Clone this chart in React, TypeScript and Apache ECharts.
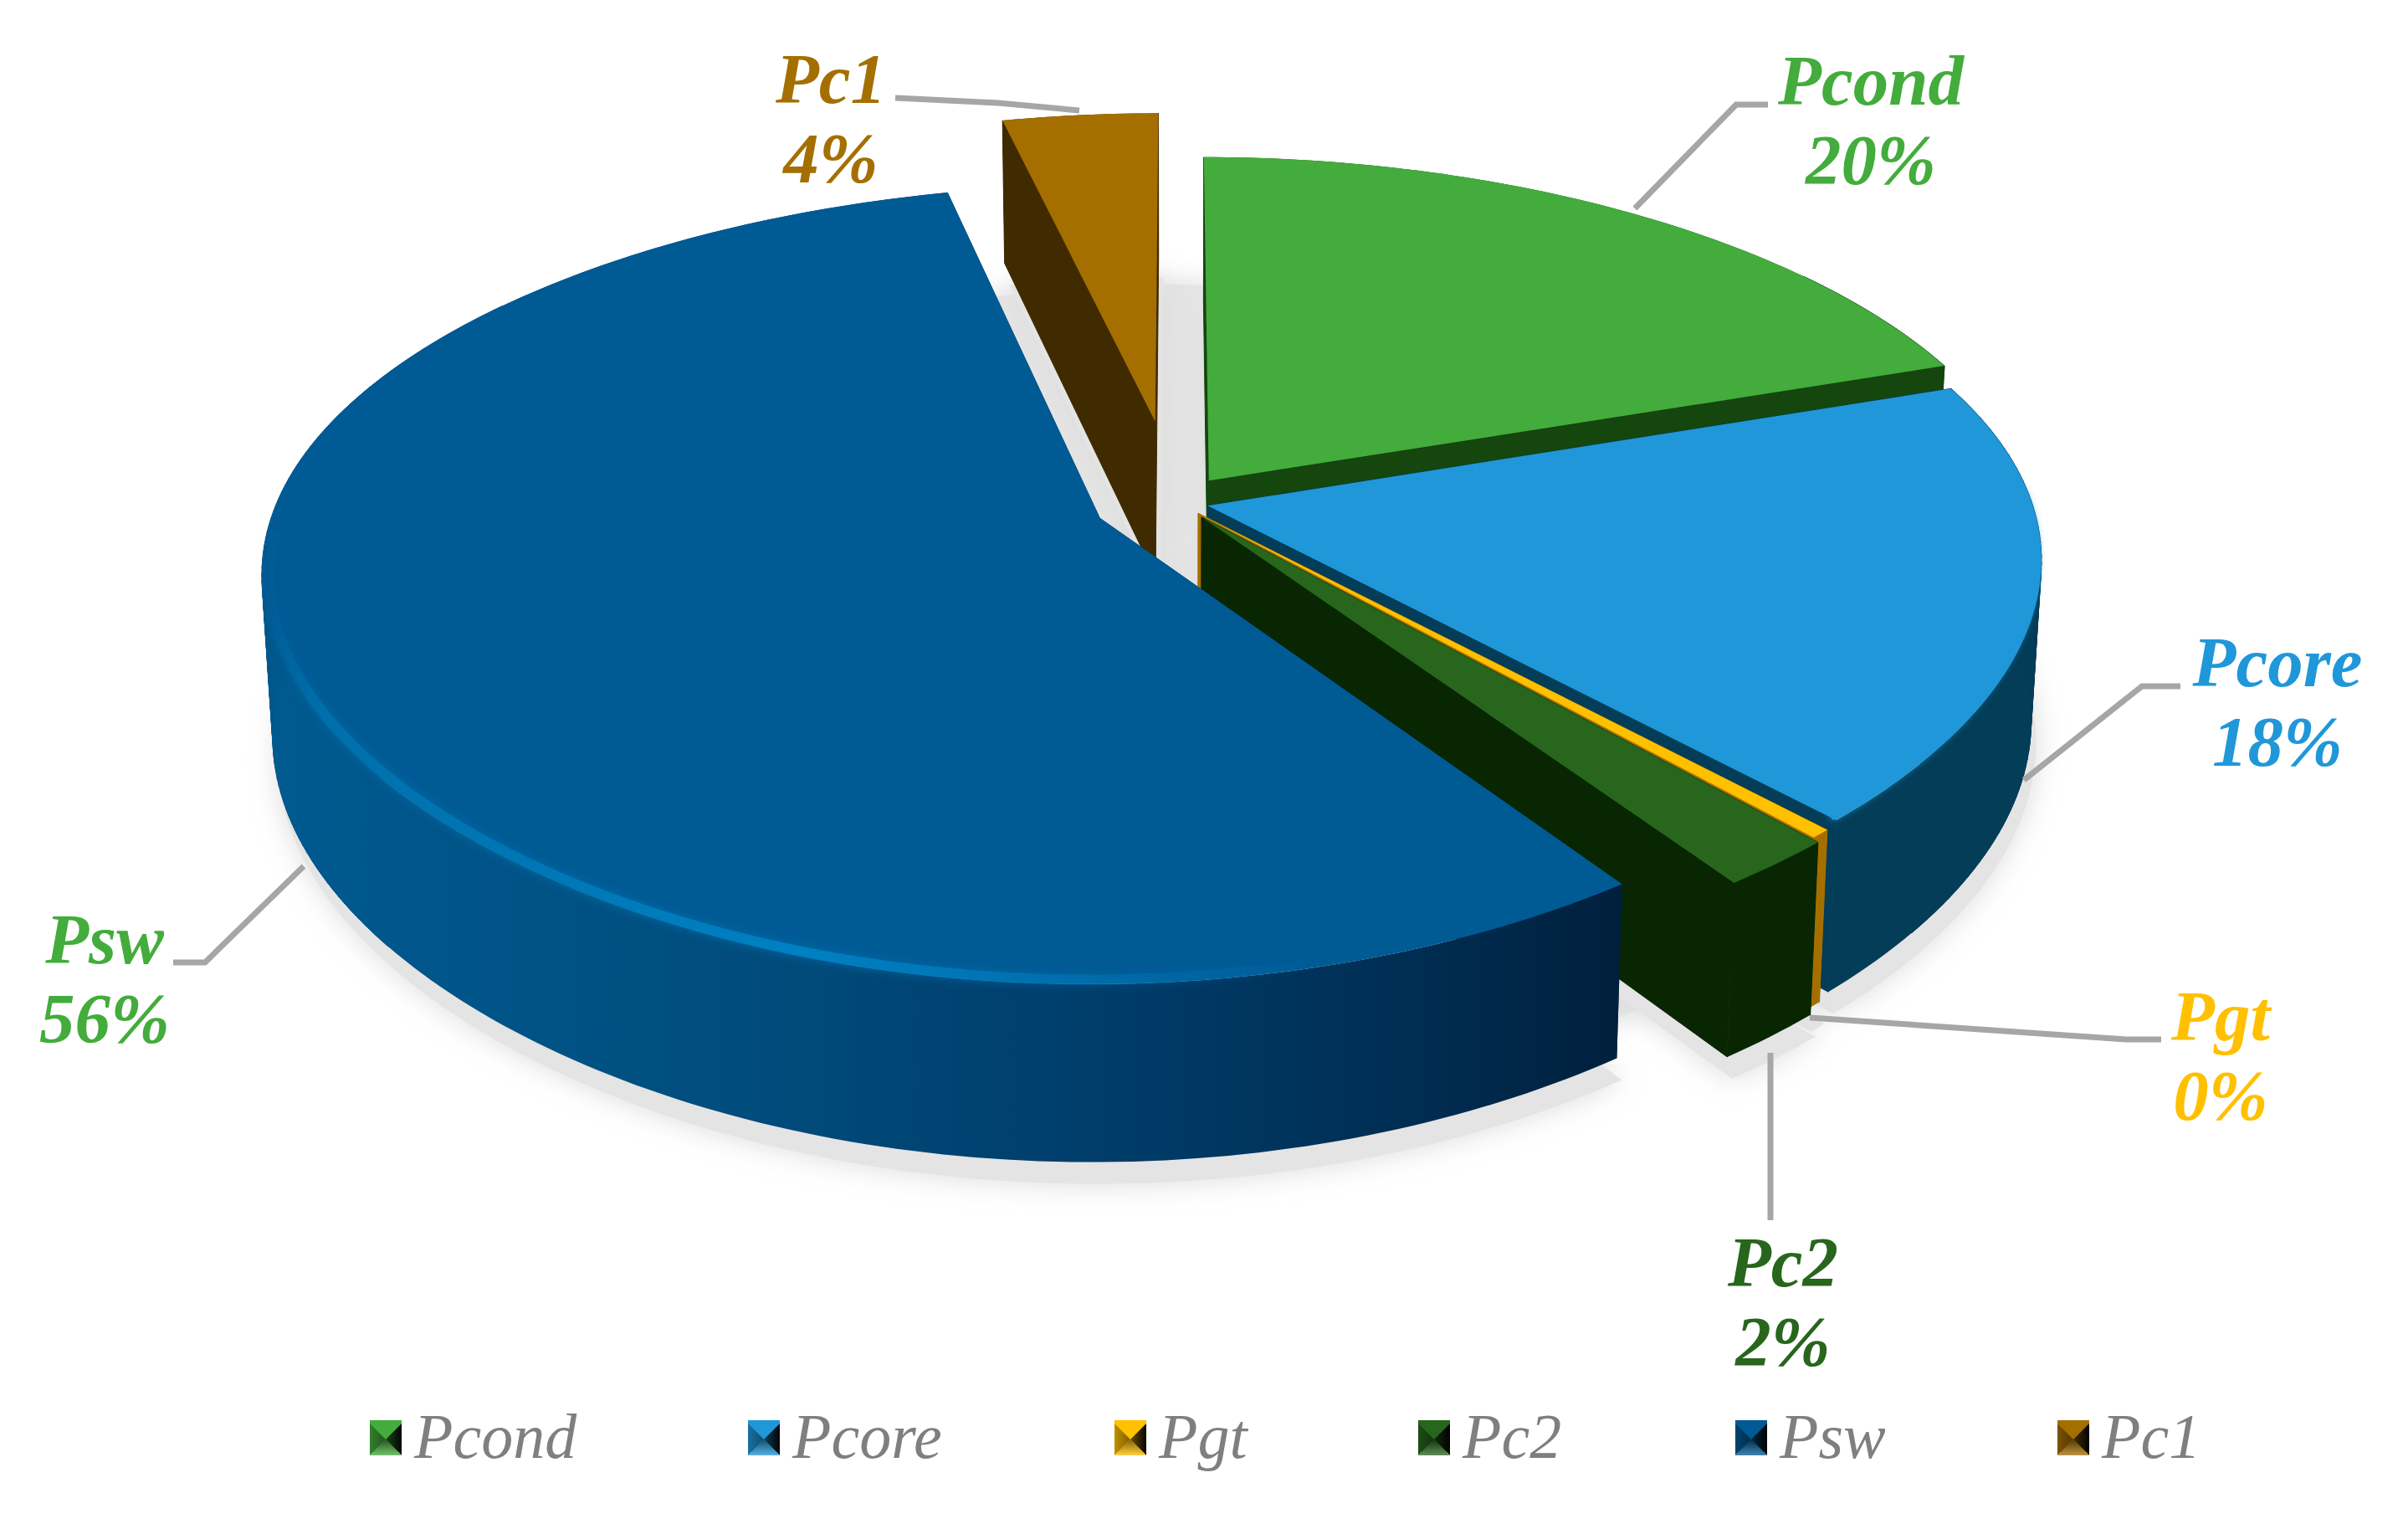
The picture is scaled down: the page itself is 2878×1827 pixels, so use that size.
import React, { useEffect, useRef } from "react";
import * as echarts from "echarts";

const CATEGORIES = ["Pcond", "Pcore", "Pgt", "Pc2", "Psw", "Pc1"];
const VALUES = [19.8, 18.0, 0.35, 2.0, 56.15, 3.7];
const TOP_COLORS = ["#43AC3C", "#2097D8", "#FFC000", "#27661C", "#005A94", "#A56F00"];
const WALL_COLORS = ["#14460E", "#033D58", "#A56F00", "#082602", "#00588C", "#402A00"];
const LABEL_COLORS = ["#43AC3C", "#2097D8", "#FFC000", "#27661C", "#43AC3C", "#A56F00"];
const EXPLODE = [0.07, 0.04, 0.04, 0.05, 0.1, 0.22];
const LABEL_POS = [[2236, 143], [2722, 838], [2654, 1261], [2131, 1555], [125, 1169], [993, 141]];
const LEADERS = [
  [[1954, 249], [2075, 125], [2113, 125]],
  [[2419, 932], [2560, 820], [2606, 820]],
  [[2163, 1216], [2541, 1242], [2583, 1242]],
  [[2116, 1258], [2116, 1458]],
  [[363, 1035], [245, 1150], [207, 1150]],
  [[1070, 117], [1193, 123], [1290, 132]],
];
const LEGEND_ICON_X = [442, 894, 1332, 1695, 2074, 2459];
const LEGEND_ICON_Y = 1701;
const LEGEND_ICON_SIZE = 38;
const DRAW_ORDER = [5, 0, 1, 2, 3, 4];

const CX = 1405, CY = 600, RX = 985, RY = 458, KXA = 0.143, KXB = 0.034, KY = 0.165, WALL = 190, BASE_SHRINK = 0.988;
const TOTAL = VALUES.reduce((a, b) => a + b, 0);
const ANGLES = (() => {
  let acc = 0;
  return VALUES.map((v) => {
    const a = (acc / TOTAL) * 2 * Math.PI;
    acc += v;
    return [a, (acc / TOTAL) * 2 * Math.PI];
  });
})();

function project(X: number, Y: number) {
  const sx = 1 / (1 + KXA * Y + KXB * Y * Y);
  const sy = 1 / (1 + KY * Y);
  return { x: CX + RX * X * sx, y: CY - RY * Y * sy, w: WALL * Math.pow(sy, 0.6) };
}
function slicePoint(i: number, theta: number, r: number) {
  const [a, b] = ANGLES[i];
  const m = (a + b) / 2;
  return project(EXPLODE[i] * Math.sin(m) + r * Math.sin(theta), EXPLODE[i] * Math.cos(m) + r * Math.cos(theta));
}
function arcPoints(i: number, from: number, to: number, r = 1) {
  const n = Math.max(2, Math.ceil(((to - from) * 180) / Math.PI));
  const out = [];
  for (let k = 0; k <= n; k++) out.push(slicePoint(i, from + ((to - from) * k) / n, r));
  return out;
}
const xy = (p: any) => [p.x, p.y];
const down = (p: any) => [CX + (p.x - CX) * BASE_SHRINK, p.y + p.w];

function wallFill(i: number) {
  if (CATEGORIES[i] !== "Psw") return WALL_COLORS[i];
  return new echarts.graphic.LinearGradient(0, 0, 1, 0, [
    { offset: 0, color: "#005A90" },
    { offset: 0.3, color: "#004F80" },
    { offset: 0.6, color: "#003E6C" },
    { offset: 0.85, color: "#002D52" },
    { offset: 1, color: "#001F3C" },
  ]);
}

function renderShadow() {
  const children: any[] = [];
  const disc: number[][] = [];
  for (let d = 0; d < 360; d += 3) {
    const t = (d * Math.PI) / 180;
    const p = project(Math.sin(t), Math.cos(t));
    disc.push([CX + (p.x - CX) * 0.9, p.y + p.w - 40]);
  }
  children.push({
    type: "polygon",
    shape: { points: disc },
    style: { fill: "#E4E4E4", shadowBlur: 34, shadowColor: "#DCDCDC" },
    silent: true,
  });
  CATEGORIES.forEach((_, i) => {
    const [a, b] = ANGLES[i];
    const apex = slicePoint(i, 0, 0);
    const pts = [apex, ...arcPoints(i, a, b)].map((p) => {
      const d = down(p);
      return [d[0] + 6, d[1] + 26];
    });
    children.push({
      type: "polygon",
      shape: { points: pts },
      style: { fill: "#E4E4E4", shadowBlur: 34, shadowColor: "#DCDCDC" },
      silent: true,
    });
  });
  return { type: "group", children };
}

function softEdge(i: number) {
  const name = CATEGORIES[i];
  const [a, b] = ANGLES[i];
  const deg = Math.PI / 180;
  if (name === "Psw") {
    return {
      type: "polyline",
      shape: { points: arcPoints(i, 165 * deg, 268 * deg, 0.992).map((p) => xy(p)) },
      style: {
        fill: "none",
        lineWidth: 12,
        stroke: new echarts.graphic.LinearGradient(0, 0, 1, 0, [
          { offset: 0, color: "rgba(0,114,176,0)" },
          { offset: 0.06, color: "#0070AC" },
          { offset: 0.5, color: "#0080C2" },
          { offset: 1, color: "rgba(0,120,190,0)" },
        ]),
        shadowBlur: 12,
        shadowColor: "#006CA8",
      },
    };
  }
  if (name === "Pcore") {
    return {
      type: "polyline",
      shape: { points: arcPoints(i, Math.max(a, 88 * deg), b, 0.992).map((p) => xy(p)) },
      style: { fill: "none", lineWidth: 8, stroke: TOP_COLORS[i], shadowBlur: 10, shadowColor: TOP_COLORS[i] },
    };
  }
  return null;
}

// Quads near the left and right extremes of the pie close the silhouette between the top and base rims.
function silhouetteQuads(i: number, arc: any[]) {
  const out: any[] = [];
  const [a, b] = ANGLES[i];
  for (let k = 0; k < arc.length - 1; k++) {
    const theta = a + ((b - a) * (k + 0.5)) / (arc.length - 1);
    if (Math.abs(Math.cos(theta)) > 0.6) continue;
    out.push({
      type: "polygon",
      shape: { points: [xy(arc[k]), xy(arc[k + 1]), down(arc[k + 1]), down(arc[k])] },
      style: { fill: WALL_COLORS[i], stroke: WALL_COLORS[i], lineWidth: 1 },
    });
  }
  return out;
}

function renderSlice(i: number) {
  return (params: any, api: any) => {
    const percent = Math.round((api.value(0) / TOTAL) * 100);
    const [a, b] = ANGLES[i];
    const apex = slicePoint(i, 0, 0);
    const arc = arcPoints(i, a, b);
    const first = arc[0];
    const last = arc[arc.length - 1];
    const wallStyle = { fill: WALL_COLORS[i], stroke: WALL_COLORS[i], lineWidth: 1 };
    const edge = softEdge(i);
    const isPsw = CATEGORIES[i] === "Psw";
    const cutStyle = isPsw ? { fill: "#001F3C" } : wallStyle;
    const children: any[] = [
      { type: "polygon", shape: { points: [xy(apex), xy(first), down(first), down(apex)] }, style: cutStyle },
      { type: "polygon", shape: { points: [xy(apex), xy(last), down(last), down(apex)] }, style: cutStyle },
      ...silhouetteQuads(i, arc),
      {
        type: "polygon",
        shape: { points: [...arc.map((p) => xy(p)), ...arc.slice().reverse().map((p) => down(p))] },
        style: { fill: wallFill(i) },
      },
    ];
    if (edge && !isPsw) children.push(edge);
    children.push({
      type: "polygon",
      shape: { points: [xy(apex), ...arc.map((p) => xy(p))] },
      style: { fill: TOP_COLORS[i] },
    });
    if (edge && isPsw) children.push(edge);
    children.push({
      type: "polyline",
      shape: { points: LEADERS[i] },
      style: { fill: "none", stroke: "#A6A6A6", lineWidth: 7 },
    });
    children.push({
      type: "text",
      x: LABEL_POS[i][0],
      y: LABEL_POS[i][1],
      style: {
        text: `${CATEGORIES[i]}\n${percent}%`,
        fill: LABEL_COLORS[i],
        font: 'italic bold 85px "Liberation Serif"',
        lineHeight: 95,
        align: "center",
        verticalAlign: "middle",
      },
    });
    return { type: "group", children };
  };
}

function mix(hex: string, target: number, t: number) {
  const n = parseInt(hex.slice(1), 16);
  const c = [(n >> 16) & 255, (n >> 8) & 255, n & 255].map((v) => Math.round(v + (target - v) * t));
  return `rgb(${c[0]},${c[1]},${c[2]})`;
}
function legendPyramids() {
  const S = LEGEND_ICON_SIZE;
  return CATEGORIES.map((_, i) => {
    const c = TOP_COLORS[i];
    const LG = echarts.graphic.LinearGradient;
    const tri = (pts: number[][], fill: any) => ({ type: "polygon", z: 20, shape: { points: pts }, style: { fill } });
    const m = [S / 2, S / 2];
    return {
      type: "group",
      x: LEGEND_ICON_X[i],
      y: LEGEND_ICON_Y,
      silent: true,
      children: [
        tri([[0, 0], [S, 0], m], c),
        tri([[0, 0], m, [0, S]], new LG(0, 0, 1, 0, [{ offset: 0, color: mix(c, 0, 0.25) }, { offset: 1, color: mix(c, 0, 0.5) }])),
        tri([[S, 0], m, [S, S]], new LG(0, 0, 1, 0, [{ offset: 0, color: mix(c, 0, 0.6) }, { offset: 1, color: mix(c, 0, 0.97) }])),
        tri([[0, S], m, [S, S]], new LG(0, 0, 0, 1, [{ offset: 0, color: mix(c, 0, 0.5) }, { offset: 1, color: mix(c, 255, 0.25) }])),
      ],
    };
  });
}

export default function App() {
  const ref = useRef<HTMLDivElement>(null);
  useEffect(() => {
    const chart = echarts.init(ref.current!, undefined, { renderer: "svg" });
    chart.setOption({
      animation: false,
      backgroundColor: "#FFFFFF",
      tooltip: { show: false },
      legend: CATEGORIES.map((name, i) => ({
        data: [name],
        left: LEGEND_ICON_X[i] - 5,
        top: 1673,
        icon: "rect",
        itemWidth: LEGEND_ICON_SIZE,
        itemHeight: LEGEND_ICON_SIZE,
        selectedMode: false,
        textStyle: {
          fontFamily: "Liberation Serif",
          fontStyle: "italic",
          fontSize: 76,
          color: "#7F7F7F",
          padding: [0, 0, 0, 10],
        },
      })),
      graphic: { elements: legendPyramids() },
      series: [
        {
          type: "custom",
          name: "shadow",
          coordinateSystem: "none",
          silent: true,
          data: [[0]],
          renderItem: renderShadow,
        },
        ...DRAW_ORDER.map((i) => ({
          type: "custom",
          name: CATEGORIES[i],
          coordinateSystem: "none",
          silent: true,
          itemStyle: { color: TOP_COLORS[i] },
          data: [[VALUES[i]]],
          renderItem: renderSlice(i),
        })),
      ],
    });
    return () => chart.dispose();
  }, []);
  return <div ref={ref} style={{ position: "absolute", left: 0, top: 0, width: 2878, height: 1827 }} />;
}
